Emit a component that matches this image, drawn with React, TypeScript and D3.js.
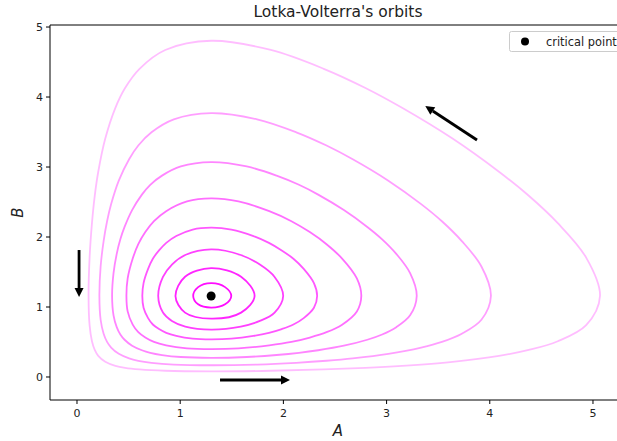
import React from "react";
import * as d3 from "d3";

// Orbit points [A, B]
const orbit1 = [[1.495,1.157],[1.435,1.284],[1.3,1.341],[1.174,1.284],[1.126,1.157],[1.174,1.038],[1.3,0.992],[1.435,1.038]];
const orbit2 = [[1.721,1.157],[1.59,1.432],[1.3,1.556],[1.047,1.432],[0.954,1.157],[1.047,0.92],[1.3,0.833],[1.59,0.92]];
const orbit3 = [[1.998,1.157],[1.915,1.429],[1.772,1.606],[1.587,1.743],[1.3,1.822],[1.049,1.743],[0.92,1.606],[0.833,1.429],[0.787,1.157],[0.833,0.921],[0.92,0.801],[1.049,0.721],[1.3,0.678],[1.587,0.721],[1.772,0.801],[1.915,0.921]];
const orbit4 = [[2.327,1.157],[2.296,1.342],[2.197,1.545],[2.097,1.69],[1.984,1.808],[1.86,1.916],[1.71,2.014],[1.496,2.107],[1.3,2.134],
  [1.121,2.107],[0.962,2.014],[0.865,1.916],[0.795,1.808],[0.735,1.69],[0.689,1.545],[0.645,1.342],[0.633,1.157],
  [0.645,0.989],[0.689,0.841],[0.735,0.75],[0.795,0.685],[0.865,0.631],[0.962,0.587],[1.121,0.547],[1.3,0.537],
  [1.496,0.547],[1.71,0.587],[1.86,0.631],[1.984,0.685],[2.097,0.75],[2.197,0.841],[2.296,0.989]];
const orbit5 = [[2.755,1.157],[2.712,1.408],[2.569,1.692],[2.418,1.897],[2.256,2.07],[2.078,2.226],[1.863,2.369],[1.565,2.508],[1.3,2.552],
  [1.066,2.508],[0.864,2.369],[0.746,2.226],[0.662,2.07],[0.594,1.897],[0.54,1.692],[0.491,1.408],[0.479,1.157],
  [0.491,0.937],[0.54,0.748],[0.594,0.64],[0.662,0.564],[0.746,0.501],[0.864,0.452],[1.066,0.4085],[1.3,0.397],
  [1.565,0.4085],[1.863,0.452],[2.078,0.501],[2.256,0.564],[2.418,0.64],[2.569,0.748],[2.712,0.937]];
const orbit6 = [[3.292,1.157],[3.228,1.484],[3.094,1.759],[2.957,1.967],[2.813,2.144],[2.586,2.385],[2.337,2.606],[2.151,2.746],[1.934,2.877],[1.645,3.008],[1.3,3.071],
  [1.006,3.008],[0.824,2.877],[0.71,2.746],[0.629,2.606],[0.534,2.385],[0.461,2.144],[0.42,1.967],[0.385,1.759],[0.354,1.484],[0.34,1.157],
  [0.354,0.881],[0.385,0.712],[0.42,0.607],[0.461,0.532],[0.534,0.447],[0.629,0.382],[0.71,0.345],[0.824,0.314],[1.006,0.286],[1.3,0.274],
  [1.645,0.286],[1.934,0.314],[2.151,0.345],[2.337,0.382],[2.586,0.447],[2.813,0.532],[2.957,0.607],[3.094,0.712],[3.228,0.881]];
const orbit7 = [[4.011,1.157],[3.919,1.579],[3.729,1.942],[3.536,2.225],[3.335,2.47],[3.017,2.805],[2.672,3.111],[2.418,3.307],[2.125,3.496],[1.745,3.681],[1.3,3.77],
  [0.938,3.681],[0.722,3.496],[0.594,3.307],[0.505,3.111],[0.405,2.805],[0.331,2.47],[0.2915,2.225],[0.258,1.942],[0.229,1.579],[0.217,1.157],
  [0.229,0.818],[0.258,0.619],[0.2915,0.502],[0.331,0.421],[0.405,0.331],[0.505,0.266],[0.594,0.232],[0.722,0.203],[0.938,0.178],[1.3,0.168],
  [1.745,0.178],[2.125,0.203],[2.418,0.232],[2.672,0.266],[3.017,0.331],[3.335,0.421],[3.536,0.502],[3.729,0.619],[3.919,0.818]];
const orbit8 = [[5.068,1.157],[4.934,1.706],[4.659,2.198],[4.378,2.589],[4.089,2.932],[3.639,3.406],[3.15,3.846],[2.795,4.129],[2.391,4.403],[1.878,4.672],[1.3,4.804],
  [0.855,4.672],[0.606,4.403],[0.466,4.129],[0.372,3.846],[0.274,3.406],[0.206,2.932],[0.172,2.589],[0.145,2.198],[0.122,1.706],[0.112,1.157],
  [0.122,0.74],[0.145,0.511],[0.172,0.386],[0.206,0.302],[0.274,0.217],[0.372,0.159],[0.466,0.13],[0.606,0.108],[0.855,0.089],[1.3,0.081],
  [1.878,0.089],[2.391,0.108],[2.795,0.13],[3.15,0.159],[3.639,0.217],[4.089,0.302],[4.378,0.386],[4.659,0.511],[4.934,0.74]];
const orbits = [orbit1, orbit2, orbit3, orbit4, orbit5, orbit6, orbit7, orbit8];
const orbitOpacity = [0.95, 0.85, 0.75, 0.66, 0.57, 0.48, 0.38, 0.26];

const criticalPoint = [1.3, 1.157];

// Direction arrows
const arrowStarts = [[0.02, 1.814], [1.386, -0.043], [3.876, 3.386]];
const arrowEnds = [[0.02, 1.143], [2.064, -0.043], [3.375, 3.871]];

const xTicks = [0, 1, 2, 3, 4, 5];
const yTicks = [0, 1, 2, 3, 4, 5];

const W = 617, H = 441;
const left = 50, right = 626, top = 25, bottom = 400;

export default function App() {
  const x = d3.scaleLinear().domain([-0.2616, 5.32]).range([left, right]);
  const y = d3.scaleLinear().domain([-0.3286, 5.029]).range([bottom, top]);
  const line = d3.line<number[]>().x(d => x(d[0])).y(d => y(d[1])).curve(d3.curveCatmullRomClosed.alpha(0.5));
  const font = "DejaVu Sans, sans-serif";

  const arrows = arrowStarts.map((s, i) => {
    const e = arrowEnds[i];
    const x1 = x(s[0]), y1 = y(s[1]), x2 = x(e[0]), y2 = y(e[1]);
    const dx = x2 - x1, dy = y2 - y1;
    const len = Math.hypot(dx, dy);
    const ux = dx / len, uy = dy / len;
    const hl = 9, hw = 4.5;
    const bx = x2 - ux * hl, by = y2 - uy * hl;
    const pts = [[x2, y2], [bx - uy * hw, by + ux * hw], [bx + uy * hw, by - ux * hw]];
    return { x1, y1, bx, by, pts };
  });

  return (
    <svg width={W} height={H} style={{ position: "absolute", left: 0, top: 0, background: "#fff" }} fontFamily={font}>
      <rect x={0} y={0} width={W} height={H} fill="#fff" />
      <defs>
        <clipPath id="plot"><rect x={left} y={top} width={right - left} height={bottom - top} /></clipPath>
      </defs>
      <g clipPath="url(#plot)">
        {orbits.map((o, i) => (
          <path key={i} d={line(o) || ""} fill="none" stroke="#ff00ff" strokeOpacity={orbitOpacity[i]} strokeWidth={1.8} />
        ))}
        {arrows.map((a, i) => (
          <g key={i}>
            <line x1={a.x1} y1={a.y1} x2={a.bx} y2={a.by} stroke="#000" strokeWidth={2.8} />
            <polygon points={a.pts.map(p => p.join(",")).join(" ")} fill="#000" />
          </g>
        ))}
        <circle cx={x(criticalPoint[0])} cy={y(criticalPoint[1])} r={4.5} fill="#000" />
      </g>
      <line x1={left} y1={top} x2={left} y2={bottom} stroke="#000" strokeWidth={1} />
      <line x1={left} y1={bottom} x2={right} y2={bottom} stroke="#000" strokeWidth={1} />
      <line x1={left} y1={top} x2={right} y2={top} stroke="#000" strokeWidth={1} />
      {xTicks.map(t => (
        <g key={"x" + t}>
          <line x1={x(t)} x2={x(t)} y1={bottom} y2={bottom + 4} stroke="#000" />
          <text x={x(t)} y={417} textAnchor="middle" fontSize={11} fill="#222">{t}</text>
        </g>
      ))}
      {yTicks.map(t => (
        <g key={"y" + t}>
          <line x1={left - 4} x2={left} y1={y(t)} y2={y(t)} stroke="#000" />
          <text x={43} y={y(t) + 4} textAnchor="end" fontSize={11} fill="#222">{t}</text>
        </g>
      ))}
      <text x={338} y={17} textAnchor="middle" fontSize={15.5} fill="#222">Lotka-Volterra's orbits</text>
      <text x={338} y={436} textAnchor="middle" fontSize={15} fontStyle="italic" fill="#222">A</text>
      <text transform={`translate(23,${(top + bottom) / 2}) rotate(-90)`} textAnchor="middle" fontSize={15} fontStyle="italic" fill="#222">B</text>
      <rect x={509.5} y={31.5} width={120} height={20} rx={2} fill="#fff" stroke="#ccc" />
      <circle cx={525} cy={41.5} r={4} fill="#000" />
      <text x={546} y={45.5} fontSize={11.4} fill="#222">critical point</text>
    </svg>
  );
}
